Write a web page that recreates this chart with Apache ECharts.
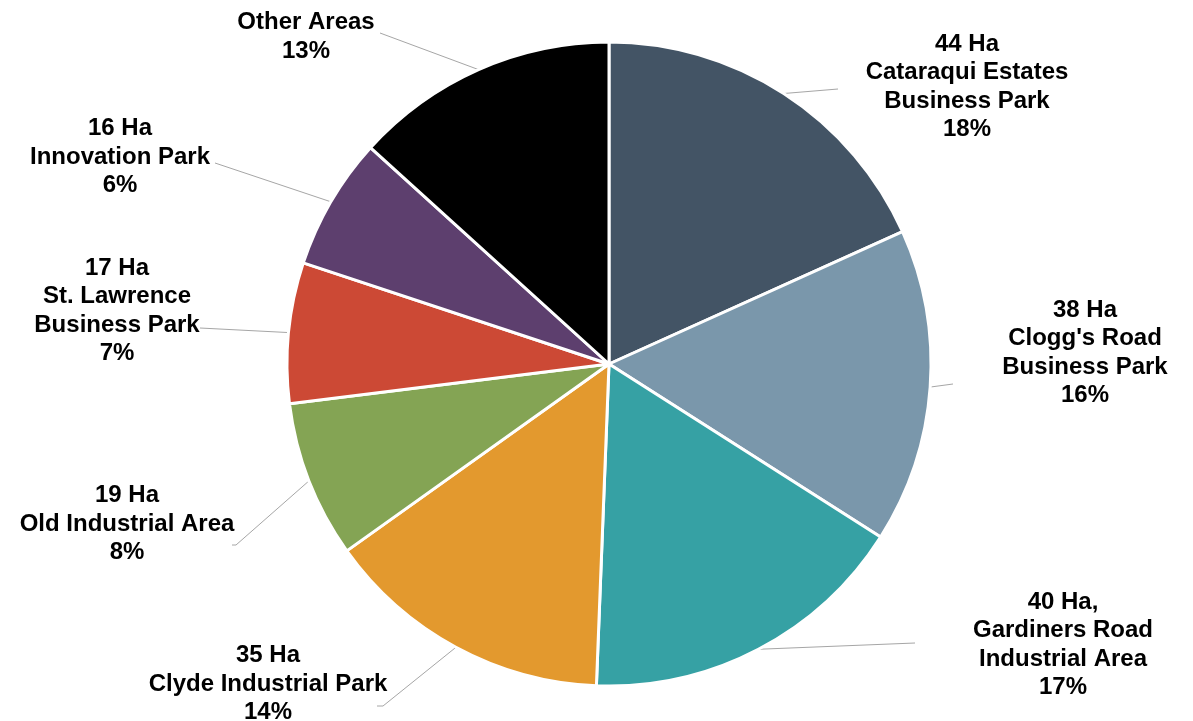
<!DOCTYPE html>
<html>
<head>
<meta charset="utf-8">
<script src="https://cdn.jsdelivr.net/npm/echarts@6/dist/echarts.min.js"></script>
<style>
  html, body { margin: 0; padding: 0; background: #ffffff; }
  #chart { width: 1193px; height: 721px; }
</style>
</head>
<body>
<div id="chart"></div>
<script>
// ---- Data ----
const categories = [
  "Cataraqui Estates\nBusiness Park",
  "Clogg's Road\nBusiness Park",
  "Gardiners Road\nIndustrial Area",
  "Clyde Industrial Park",
  "Old Industrial Area",
  "St. Lawrence\nBusiness Park",
  "Innovation Park",
  "Other Areas"
];
const hectares = [44, 38, 40, 35, 19, 17, 16, 32];
const haLabels = ["44 Ha", "38 Ha", "40 Ha,", "35 Ha", "19 Ha", "17 Ha", "16 Ha", null];
const percentLabels = ["18%", "16%", "17%", "14%", "8%", "7%", "6%", "13%"];

// ---- Styles / layout ----
const colors = ["#435465", "#7a97ab", "#36a1a4", "#e3992e", "#84a454", "#cc4935", "#5d3f6e", "#000000"];
// label block centres and leader-line end points (layout only)
const labelCenters = [[967, 87], [1085, 353], [1063, 645], [268, 684], [127, 524], [117, 311], [120, 157], [306, 37]];
const lineEnds = [[838, 89], [953, 384], [915, 643], [377, 706], [232, 545], [200, 328], [215, 163], [380, 33]];
const lineElbows = [null, null, null, [383, 706], [236, 545], null, null, null];

const chart = echarts.init(document.getElementById('chart'), null, { renderer: 'canvas' });

const seriesData = categories.map((c, i) => ({
  name: c,
  value: hectares[i],
  itemStyle: { color: colors[i] }
}));

chart.setOption({
  backgroundColor: '#ffffff',
  animation: false,
  series: [{
    type: 'pie',
    center: [609, 364],
    radius: 322,
    startAngle: 90,
    clockwise: true,
    avoidLabelOverlap: false,
    data: seriesData,
    itemStyle: { borderColor: '#ffffff', borderWidth: 3 },
    label: {
      show: true,
      position: 'outside',
      color: '#000000',
      fontFamily: '"Liberation Sans", Arial, sans-serif',
      fontWeight: 'bold',
      fontSize: 24,
      lineHeight: 28.5,
      formatter: function (p) {
        const i = p.dataIndex;
        const parts = [];
        if (haLabels[i]) parts.push(haLabels[i]);
        parts.push(categories[i]);
        parts.push(percentLabels[i]);
        return parts.join('\n');
      }
    },
    labelLine: {
      show: true,
      length: 10,
      length2: 20,
      smooth: false,
      lineStyle: { color: '#a6a6a6', width: 1 }
    },
    labelLayout: function (params) {
      const i = params.dataIndex;
      const start = params.labelLinePoints ? params.labelLinePoints[0] : lineEnds[i];
      const pts = [start];
      if (lineElbows[i]) pts.push(lineElbows[i]);
      pts.push(lineEnds[i]);
      return {
        x: labelCenters[i][0],
        y: labelCenters[i][1],
        align: 'center',
        verticalAlign: 'middle',
        labelLinePoints: pts
      };
    }
  }]
});
</script>
</body>
</html>
